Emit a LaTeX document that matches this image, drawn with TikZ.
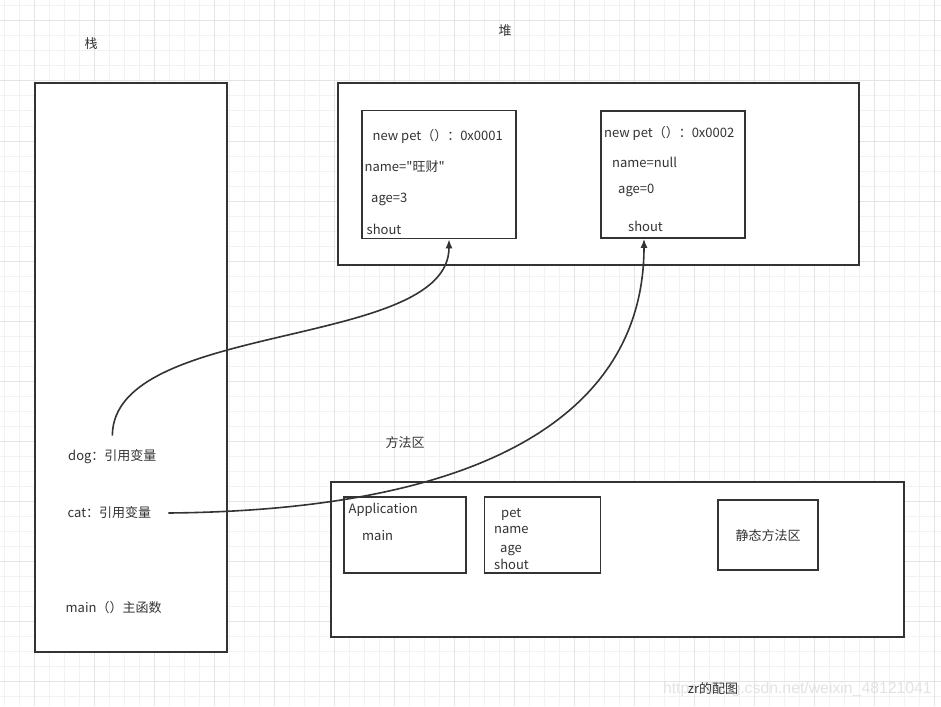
\documentclass[tikz,border=0pt]{standalone}
\usepackage{fontspec}
\newfontfamily\cjk{Noto Sans CJK SC}
\newfontfamily\markfont{Liberation Sans}
\usepackage{tikz}
\usetikzlibrary{arrows.meta,positioning,calc}
\usepackage{xcolor}
\definecolor{ink}{HTML}{333333}
\definecolor{gridminor}{HTML}{F2F2F2}
\definecolor{gridmajor}{HTML}{E4E4E4}

\begin{document}
\begin{tikzpicture}[>={Latex[length=9pt,width=7pt]},x=1pt,y=-1pt,
  area/.style={draw=ink,line width=1.6pt,fill=white,inner sep=0pt},
  lbl/.style={inner sep=0pt,text=ink,font=\cjk\fontsize{13}{15}\selectfont},
  item/.style={lbl,anchor=west},
  ref/.style={draw=ink,line width=1.6pt,->}]
\useasboundingbox (0,0) rectangle (941,706);
\fill[white] (0,0) rectangle (941,706);
\foreach \x in {4,19,...,934} \draw[gridminor,line width=1pt] (\x,0)--(\x,706);
\foreach \y in {6,21,...,696} \draw[gridminor,line width=1pt] (0,\y)--(941,\y);
\foreach \x in {34,94,...,934} \draw[gridmajor,line width=1pt] (\x,0)--(\x,706);
\foreach \y in {21,81,...,681} \draw[gridmajor,line width=1pt] (0,\y)--(941,\y);

\node[lbl] (stacktitle) at (91,44) {栈};
\node[lbl] (heaptitle) at (505,31) {堆};
\node[lbl] (methodtitle) at (405,443) {方法区};

\node[area,minimum width=192pt,minimum height=569pt] (stack) at (131,367.5) {};
\node[area,minimum width=521pt,minimum height=182pt] (heap) at (598.5,174) {};
\node[area,minimum width=573pt,minimum height=155pt] (method) at (617.5,559.5) {};

\node[area,minimum width=154pt,minimum height=128pt] (obj1) at (439,174.5) {};
\node[area,minimum width=144pt,minimum height=127pt] (obj2) at (673,174.5) {};
\node[area,minimum width=122pt,minimum height=76pt] (app) at (405,535) {};
\node[area,minimum width=116pt,minimum height=76pt] (petcls) at (542.5,535) {};
\node[area,minimum width=100pt,minimum height=70pt] (static) at (768,535) {};

\node[item] (o1head) at (372.5,136.5) {new pet（）：0x0001};
\node[item] (o1name) at (364.5,167) {name="旺财"};
\node[item] (o1age) at (371,199) {age=3};
\node[item] (o1shout) at (366.5,229) {shout};

\node[item] (o2head) at (604,133) {new pet（）：0x0002};
\node[item] (o2name) at (612,162.5) {name=null};
\node[item] (o2age) at (618,190) {age=0};
\node[item] (o2shout) at (628,226) {shout};

\node[item] (appname) at (348.5,510) {Application};
\node[item] (appmain) at (362,535.5) {main};
\node[item] (petname) at (501,514) {pet};
\node[item] (petfield) at (494,530) {name};
\node[item] (petage) at (500,550) {age};
\node[item] (petshout) at (494,564.5) {shout};
\node[lbl] (statictext) at (768,536) {静态方法区};

\node[item] (dog) at (68,457) {dog：引用变量};
\node[item] (cat) at (67.5,513) {cat：引用变量};
\node[item] (mainfn) at (65.5,608) {main（）主函数};

\draw[ref] ([yshift=14pt]dog.north) .. controls (113,320) and (449,350) .. ([xshift=10pt]obj1.south);
\draw[ref] ([xshift=17pt]cat.east) .. controls (500,510) and (644,405) .. ([xshift=-29pt]obj2.south);

\node[inner sep=0pt,anchor=east,text=black!11,font=\markfont\fontsize{15.8}{18}\selectfont] (mark) at (932,689) {https://blog.csdn.net/weixin\_48121041};
\node[lbl] (credit) at (713,689) {zr的配图};
\end{tikzpicture}
\end{document}
